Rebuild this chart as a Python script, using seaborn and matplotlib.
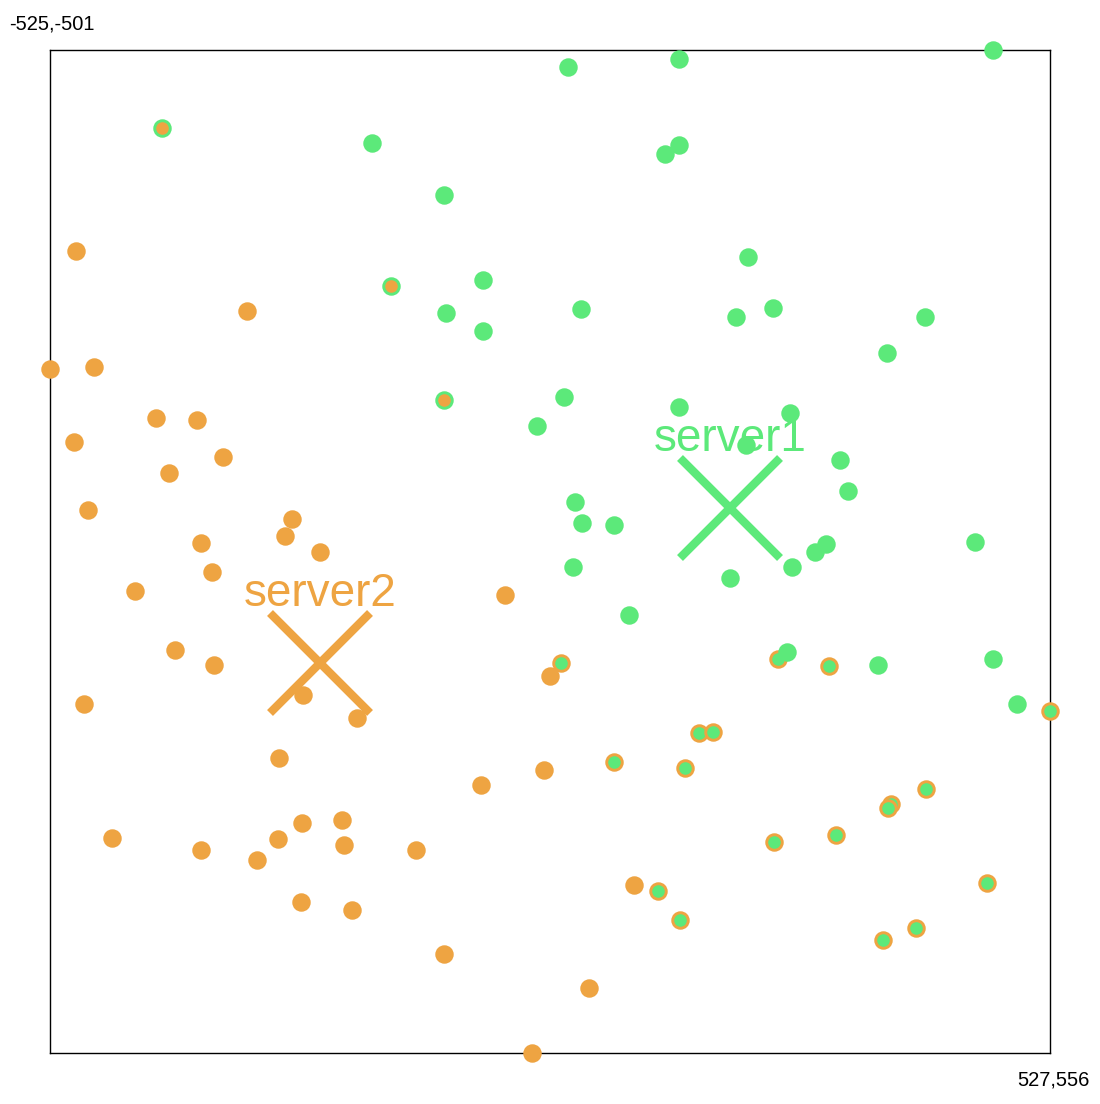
import seaborn as sns
import matplotlib.pyplot as plt

# area bounds (shown in the corners)
x_min, y_min = -525, -501
x_max, y_max = 527, 556

orange = "#EEA442"
green = "#5CE97A"

# clients attached to server1 (green)
green_x = [20, 137, 467, -186, 122, 137, -110, -70, 209, 34, -108, -70, 197, 236,
           396, 356, 16, -13, 137, 253, 207, 306, 314, 27, 35, 68, 448, 291, 280,
           256, 190, 25, 84, 250, 346, 467, 492]
green_y = [-483, -492, -501, -403, -391, -401, -348, -259, -283, -228, -224, -205,
           -220, -229, -220, -182, -135, -105, -125, -118, -85, -69, -36, -25, -3,
           0, 18, 20, 28, 44, 55, 44, 94, 133, 147, 141, 188]

# clients attached to server2 (orange)
orange_x = [-498, -318, -525, -479, -414, -370, -500, -343, -400, -485, -270, -278,
            -366, -241, -355, -436, -46, -394, -352, -489, -259, -202, 1, -284, -5,
            -72, -460, -366, -307, -285, -260, -218, -216, -261, -207, -140, 89,
            -110, 42, -18]
orange_y = [-289, -226, -165, -167, -113, -111, -88, -72, -55, -16, -7, 11, 19, 28,
            49, 69, 73, 131, 147, 188, 179, 203, 159, 245, 258, 274, 329, 342, 353,
            331, 314, 310, 337, 397, 405, 342, 379, 452, 488, 556]

# orange clients closer to server1 (green ring)
og_x = [-407, -166, -110]
og_y = [-419, -252, -132]

# green clients closer to server2 (orange ring)
go_x = [13, 241, 295, 527, 158, 172, 68, 143, 397, 360, 357, 237, 302, 115, 138,
        461, 386, 351]
go_y = [145, 141, 148, 196, 219, 218, 249, 256, 278, 294, 298, 334, 326, 385, 416,
        377, 424, 437]

servers = ["server1", "server2"]
server_x = [190, -241]
server_y = [-18, 145]
server_colors = [green, orange]

sns.set_style("white")
plt.rcParams["font.family"] = ["Liberation Sans", "DejaVu Sans"]

fig = plt.figure(figsize=(11, 11.04), dpi=100)
ax = fig.add_axes([50 / 1100, 51 / 1104, 1000 / 1100, 1003 / 1104])

groups = [
    (orange_x, orange_y, orange, orange),
    (og_x, og_y, orange, green),
    (go_x, go_y, green, orange),
    (green_x, green_y, green, green),
]
for xs, ys, fill, ring in groups:
    sns.scatterplot(x=xs, y=ys, color=fill, edgecolor=ring, s=125, linewidth=2.1,
                    ax=ax, clip_on=False, zorder=3)

for name, sx, sy, c in zip(servers, server_x, server_y, server_colors):
    ax.plot(sx, sy, marker="x", markersize=72, markeredgewidth=6, color=c,
            linestyle="none", zorder=4)
    ax.annotate(name, (sx, sy), xytext=(0, 41), textcoords="offset points",
                ha="center", va="baseline", fontsize=33, color=c, zorder=4)

ax.set_xlim(x_min, x_max)
ax.set_ylim(y_max, y_min)
ax.set_xticks([])
ax.set_yticks([])
for spine in ax.spines.values():
    spine.set_color("black")
    spine.set_linewidth(1)

fig.text(9 / 1100, 1 - 24 / 1104, f"{x_min},{y_min}", ha="left", va="center",
         fontsize=14.5, color="black")
fig.text(1090 / 1100, 1 - 1080 / 1104, f"{x_max},{y_max}", ha="right", va="center",
         fontsize=14.5, color="black")

fig.savefig("out.png", dpi=100, facecolor="white")
